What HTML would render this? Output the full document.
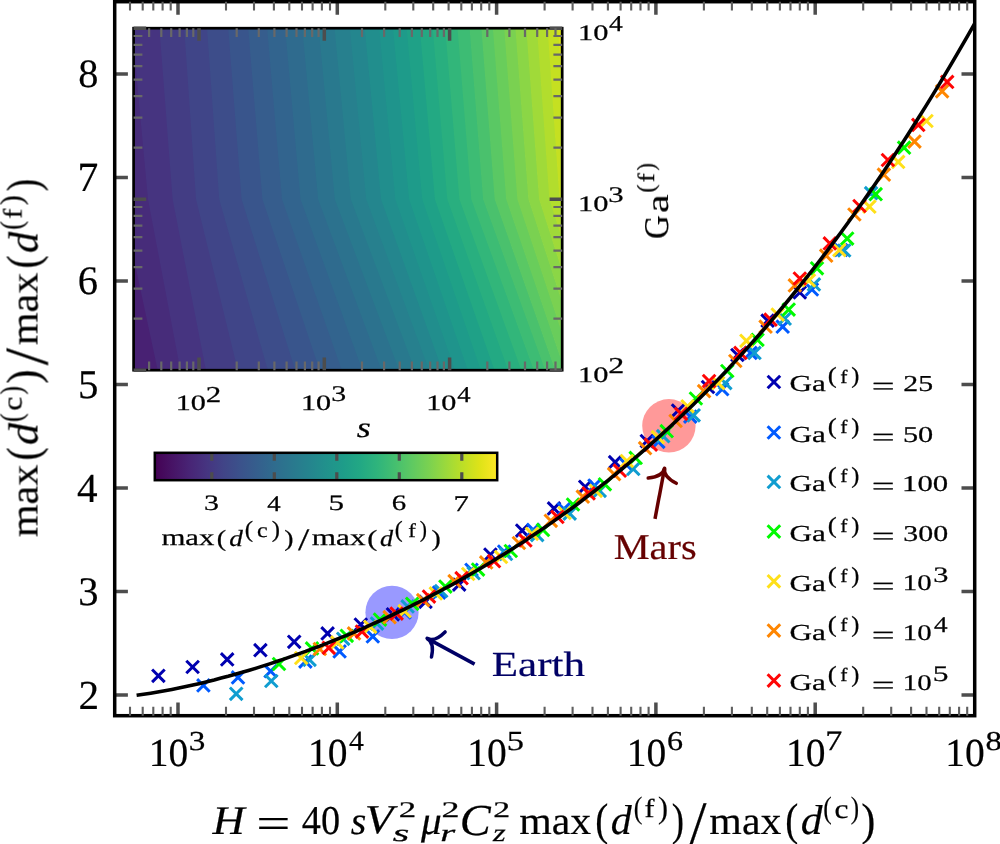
<!DOCTYPE html><html><head><meta charset="utf-8"><title>chart</title><style>html,body{margin:0;padding:0;background:#fff}body{width:1000px;height:844px;overflow:hidden;font-family:"Liberation Serif",serif}svg{display:block}</style></head><body><svg width="1000" height="844" viewBox="0 0 1000 844" font-family="'Liberation Serif', serif">
<rect width="1000" height="844" fill="#fff"/>
<circle cx="392" cy="612.4" r="26.6" fill="#9999ff"/>
<circle cx="668.9" cy="425.8" r="26.7" fill="#ff9999"/>
<path d="M152.1 669.5L164.7 682.1M152.1 682.1L164.7 669.5M186.3 660.7L198.9 673.3M186.3 673.3L198.9 660.7M220.9 653.1L233.5 665.7M220.9 665.7L233.5 653.1M254.1 643.9L266.7 656.5M254.1 656.5L266.7 643.9M287.9 635.5L300.5 648.1M287.9 648.1L300.5 635.5M321.3 627.1L333.9 639.7M321.3 639.7L333.9 627.1M354.5 618.2L367.1 630.8M354.5 630.8L367.1 618.2M386.6 608.0L399.2 620.6M386.6 620.6L399.2 608.0M419.2 595.5L431.8 608.1M419.2 608.1L431.8 595.5M452.9 578.3L465.5 590.9M452.9 590.9L465.5 578.3M484.1 548.3L496.7 560.9M484.1 560.9L496.7 548.3M515.9 524.3L528.5 536.9M515.9 536.9L528.5 524.3M547.7 502.1L560.3 514.7M547.7 514.7L560.3 502.1M578.9 480.5L591.5 493.1M578.9 493.1L591.5 480.5M608.8 455.9L621.4 468.5M608.8 468.5L621.4 455.9M640.5 434.8L653.1 447.4M640.5 447.4L653.1 434.8M671.8 404.3L684.4 416.9M671.8 416.9L684.4 404.3M701.7 380.7L714.3 393.3M701.7 393.3L714.3 380.7M731.1 348.7L743.7 361.3M731.1 361.3L743.7 348.7M761.3 314.4L773.9 327.0M761.3 327.0L773.9 314.4M793.5 286.2L806.1 298.8M793.5 298.8L806.1 286.2M767.6 375.7L780.2 388.3M767.6 388.3L780.2 375.7" stroke="#0000b0" stroke-width="3.0" fill="none"/>
<path d="M197.1 679.1L209.7 691.7M197.1 691.7L209.7 679.1M231.7 671.1L244.3 683.7M231.7 683.7L244.3 671.1M264.3 664.9L276.9 677.5M264.3 677.5L276.9 664.9M299.1 655.3L311.7 667.9M299.1 667.9L311.7 655.3M333.3 645.1L345.9 657.7M333.3 657.7L345.9 645.1M366.5 630.1L379.1 642.7M366.5 642.7L379.1 630.1M398.2 606.1L410.8 618.7M398.2 618.7L410.8 606.1M432.7 586.3L445.3 598.9M432.7 598.9L445.3 586.3M465.2 563.5L477.8 576.1M465.2 576.1L477.8 563.5M497.9 545.3L510.5 557.9M497.9 557.9L510.5 545.3M526.9 523.6L539.5 536.2M526.9 536.2L539.5 523.6M557.6 502.7L570.2 515.3M557.6 515.3L570.2 502.7M588.2 479.3L600.8 491.9M588.2 491.9L600.8 479.3M620.1 458.4L632.7 471.0M620.1 471.0L632.7 458.4M652.1 435.5L664.6 448.1M652.1 448.1L664.6 435.5M684.0 410.3L696.6 422.9M684.0 422.9L696.6 410.3M715.9 382.9L728.5 395.5M715.9 395.5L728.5 382.9M744.2 346.6L756.8 359.2M744.2 359.2L756.8 346.6M776.4 320.4L789.0 333.0M776.4 333.0L789.0 320.4M805.6 283.2L818.2 295.8M805.6 295.8L818.2 283.2M834.8 243.7L847.4 256.3M834.8 256.3L847.4 243.7M767.6 426.2L780.2 438.8M767.6 438.8L780.2 426.2" stroke="#005aff" stroke-width="3.0" fill="none"/>
<path d="M229.9 687.5L242.5 700.1M229.9 700.1L242.5 687.5M265.0 674.7L277.6 687.3M265.0 687.3L277.6 674.7M303.3 653.5L315.9 666.1M303.3 666.1L315.9 653.5M336.9 632.5L349.5 645.1M336.9 645.1L349.5 632.5M370.7 617.3L383.3 629.9M370.7 629.9L383.3 617.3M401.3 600.1L413.9 612.7M401.3 612.7L413.9 600.1M434.9 584.7L447.5 597.3M434.9 597.3L447.5 584.7M467.3 566.9L479.9 579.5M467.3 579.5L479.9 566.9M499.7 547.7L512.3 560.3M499.7 560.3L512.3 547.7M530.9 528.8L543.5 541.4M530.9 541.4L543.5 528.8M563.4 507.3L576.0 519.9M563.4 519.9L576.0 507.3M593.4 484.5L606.0 497.1M593.4 497.1L606.0 484.5M627.0 462.6L639.6 475.2M627.0 475.2L639.6 462.6M656.9 429.9L669.5 442.5M656.9 442.5L669.5 429.9M687.4 409.0L700.0 421.6M687.4 421.6L700.0 409.0M719.0 376.8L731.6 389.4M719.0 389.4L731.6 376.8M748.2 346.6L760.8 359.2M748.2 359.2L760.8 346.6M778.4 312.4L791.0 325.0M778.4 325.0L791.0 312.4M807.6 278.1L820.2 290.7M807.6 290.7L820.2 278.1M837.9 244.2L850.5 256.8M837.9 256.8L850.5 244.2M864.8 186.9L877.4 199.5M864.8 199.5L877.4 186.9M767.6 475.6L780.2 488.2M767.6 488.2L780.2 475.6" stroke="#109dd0" stroke-width="3.0" fill="none"/>
<path d="M272.7 657.7L285.3 670.3M272.7 670.3L285.3 657.7M305.7 642.1L318.3 654.7M305.7 654.7L318.3 642.1M340.5 629.5L353.1 642.1M340.5 642.1L353.1 629.5M373.7 613.3L386.3 625.9M373.7 625.9L386.3 613.3M405.9 597.5L418.5 610.1M405.9 610.1L418.5 597.5M439.1 580.3L451.7 592.9M439.1 592.9L451.7 580.3M471.8 563.3L484.4 575.9M471.8 575.9L484.4 563.3M504.5 544.7L517.1 557.3M504.5 557.3L517.1 544.7M536.7 523.6L549.3 536.2M536.7 536.2L549.3 523.6M566.7 498.2L579.3 510.8M566.7 510.8L579.3 498.2M598.6 478.0L611.2 490.6M598.6 490.6L611.2 478.0M629.4 451.6L642.0 464.2M629.4 464.2L642.0 451.6M660.4 424.9L673.0 437.5M660.4 437.5L673.0 424.9M689.6 392.2L702.2 404.8M689.6 404.8L702.2 392.2M721.0 364.7L733.6 377.3M721.0 377.3L733.6 364.7M751.2 333.5L763.8 346.1M751.2 346.1L763.8 333.5M782.4 303.3L795.0 315.9M782.4 315.9L795.0 303.3M810.7 262.0L823.3 274.6M810.7 274.6L823.3 262.0M840.9 232.3L853.5 244.9M840.9 244.9L853.5 232.3M869.4 187.9L882.0 200.5M869.4 200.5L882.0 187.9M897.8 141.4L910.4 154.0M897.8 154.0L910.4 141.4M767.6 525.3L780.2 537.9M767.6 537.9L780.2 525.3" stroke="#00fa00" stroke-width="3.0" fill="none"/>
<path d="M294.9 651.7L307.5 664.3M294.9 664.3L307.5 651.7M330.9 636.1L343.5 648.7M330.9 648.7L343.5 636.1M363.9 620.5L376.5 633.1M363.9 633.1L376.5 620.5M398.3 604.9L410.9 617.5M398.3 617.5L410.9 604.9M429.5 587.1L442.1 599.7M429.5 599.7L442.1 587.1M461.9 567.7L474.5 580.3M461.9 580.3L474.5 567.7M494.7 550.7L507.3 563.3M494.7 563.3L507.3 550.7M525.6 527.5L538.2 540.1M525.6 540.1L538.2 527.5M558.2 506.7L570.8 519.3M558.2 519.3L570.8 506.7M589.5 484.5L602.1 497.1M589.5 497.1L602.1 484.5M620.6 454.7L633.2 467.3M620.6 467.3L633.2 454.7M651.6 430.9L664.2 443.5M651.6 443.5L664.2 430.9M681.3 400.0L693.9 412.6M681.3 412.6L693.9 400.0M711.9 376.8L724.5 389.4M711.9 389.4L724.5 376.8M740.1 334.5L752.7 347.1M740.1 347.1L752.7 334.5M771.4 308.3L784.0 320.9M771.4 320.9L784.0 308.3M802.6 274.1L815.2 286.7M802.6 286.7L815.2 274.1M833.1 243.8L845.7 256.4M833.1 256.4L845.7 243.8M863.1 200.4L875.7 213.0M863.1 213.0L875.7 200.4M891.9 155.6L904.5 168.2M891.9 168.2L904.5 155.6M920.2 114.7L932.8 127.3M920.2 127.3L932.8 114.7M767.6 575.0L780.2 587.6M767.6 587.6L780.2 575.0" stroke="#ffe019" stroke-width="3.0" fill="none"/>
<path d="M313.5 642.7L326.1 655.3M313.5 655.3L326.1 642.7M347.7 627.1L360.3 639.7M347.7 639.7L360.3 627.1M383.3 610.9L395.9 623.5M383.3 623.5L395.9 610.9M416.9 593.9L429.5 606.5M416.9 606.5L429.5 593.9M448.3 574.9L460.9 587.5M448.3 587.5L460.9 574.9M479.9 556.1L492.5 568.7M479.9 568.7L492.5 556.1M512.6 536.7L525.2 549.3M512.6 549.3L525.2 536.7M544.5 514.5L557.1 527.1M544.5 527.1L557.1 514.5M576.5 490.4L589.1 503.0M576.5 503.0L589.1 490.4M607.8 467.9L620.4 480.5M607.8 480.5L620.4 467.9M638.8 441.9L651.4 454.5M638.8 454.5L651.4 441.9M669.3 414.6L681.9 427.2M669.3 427.2L681.9 414.6M697.8 384.9L710.4 397.5M697.8 397.5L710.4 384.9M729.0 354.7L741.6 367.3M729.0 367.3L741.6 354.7M759.3 320.4L771.9 333.0M759.3 333.0L771.9 320.4M788.5 279.1L801.1 291.7M788.5 291.7L801.1 279.1M819.9 249.4L832.5 262.0M819.9 262.0L832.5 249.4M848.1 208.2L860.7 220.8M848.1 220.8L860.7 208.2M877.6 168.4L890.2 181.0M877.6 181.0L890.2 168.4M908.2 135.3L920.8 147.9M908.2 147.9L920.8 135.3M935.8 85.0L948.4 97.6M935.8 97.6L948.4 85.0M767.6 624.3L780.2 636.9M767.6 636.9L780.2 624.3" stroke="#ff8600" stroke-width="3.0" fill="none"/>
<path d="M322.5 641.5L335.1 654.1M322.5 654.1L335.1 641.5M355.7 625.3L368.3 637.9M355.7 637.9L368.3 625.3M390.3 607.3L402.9 619.9M390.3 619.9L402.9 607.3M422.7 590.3L435.3 602.9M422.7 602.9L435.3 590.3M455.3 571.9L467.9 584.5M455.3 584.5L467.9 571.9M487.7 554.9L500.3 567.5M487.7 567.5L500.3 554.9M519.1 534.1L531.7 546.7M519.1 546.7L531.7 534.1M551.1 510.6L563.7 523.2M551.1 523.2L563.7 510.6M582.3 487.1L594.9 499.7M582.3 499.7L594.9 487.1M613.5 464.4L626.1 477.0M613.5 477.0L626.1 464.4M644.5 438.4L657.1 451.0M644.5 451.0L657.1 438.4M674.7 407.5L687.3 420.1M674.7 420.1L687.3 407.5M702.8 374.8L715.4 387.4M702.8 387.4L715.4 374.8M734.1 346.6L746.7 359.2M734.1 359.2L746.7 346.6M764.3 313.4L776.9 326.0M764.3 326.0L776.9 313.4M793.5 272.2L806.1 284.8M793.5 284.8L806.1 272.2M823.5 237.1L836.1 249.7M823.5 249.7L836.1 237.1M853.2 199.7L865.8 212.3M853.2 212.3L865.8 199.7M881.6 153.7L894.2 166.3M881.6 166.3L894.2 153.7M912.0 118.6L924.6 131.2M912.0 131.2L924.6 118.6M940.9 75.6L953.5 88.2M940.9 88.2L953.5 75.6M767.6 674.3L780.2 686.9M767.6 686.9L780.2 674.3" stroke="#ff0505" stroke-width="3.0" fill="none"/>
<path d="M136.6 695.3L143.6 694.3L150.7 693.2L157.7 692.0L164.8 690.8L171.8 689.5L178.8 688.1L185.9 686.6L192.9 685.0L200.0 683.4L207.0 681.7L214.1 680.0L221.1 678.1L228.1 676.3L235.2 674.3L242.2 672.3L249.3 670.2L256.3 668.1L263.3 665.9L270.4 663.6L277.4 661.3L284.5 658.9L291.5 656.4L298.5 653.9L305.6 651.4L312.6 648.7L319.7 646.1L326.7 643.3L333.8 640.5L340.8 637.7L347.8 634.8L354.9 631.8L361.9 628.8L369.0 625.7L376.0 622.5L383.0 619.3L390.1 616.0L397.1 612.7L404.2 609.3L411.2 605.9L418.2 602.3L425.3 598.8L432.3 595.1L439.4 591.4L446.4 587.6L453.5 583.8L460.5 579.9L467.5 575.9L474.6 571.8L481.6 567.7L488.7 563.5L495.7 559.3L502.7 554.9L509.8 550.5L516.8 546.0L523.9 541.5L530.9 536.8L537.9 532.1L545.0 527.3L552.0 522.4L559.1 517.4L566.1 512.3L573.2 507.2L580.2 502.0L587.2 496.6L594.3 491.2L601.3 485.7L608.4 480.1L615.4 474.4L622.4 468.6L629.5 462.7L636.5 456.7L643.6 450.6L650.6 444.4L657.6 438.1L664.7 431.7L671.7 425.2L678.8 418.5L685.8 411.8L692.9 405.0L699.9 398.0L706.9 390.9L714.0 383.7L721.0 376.4L728.1 369.0L735.1 361.4L742.1 353.7L749.2 345.9L756.2 338.0L763.3 330.0L770.3 321.8L777.3 313.5L784.4 305.0L791.4 296.5L798.5 287.7L805.5 278.9L812.6 269.9L819.6 260.8L826.6 251.6L833.7 242.2L840.7 232.7L847.8 223.0L854.8 213.2L861.8 203.2L868.9 193.1L875.9 182.9L883.0 172.5L890.0 162.0L897.0 151.3L904.1 140.5L911.1 129.5L918.2 118.3L925.2 107.1L932.3 95.6L939.3 84.1L946.3 72.3L953.4 60.4L960.4 48.4L967.5 36.2L974.5 23.9" stroke="#000" stroke-width="3.6" fill="none" stroke-linejoin="round"/>
<path d="M178.0 715.7V702.6M178.0 1.7V14.799999999999999M337.3 715.7V702.6M337.3 1.7V14.799999999999999M496.6 715.7V702.6M496.6 1.7V14.799999999999999M655.9 715.7V702.6M655.9 1.7V14.799999999999999M815.2 715.7V702.6M815.2 1.7V14.799999999999999M114.7 694.9H127.9M974.7 694.9H961.5M114.7 591.4H127.9M974.7 591.4H961.5M114.7 487.9H127.9M974.7 487.9H961.5M114.7 384.4H127.9M974.7 384.4H961.5M114.7 280.9H127.9M974.7 280.9H961.5M114.7 177.4H127.9M974.7 177.4H961.5M114.7 73.9H127.9M974.7 73.9H961.5" stroke="#4d4d4d" stroke-width="3.5" fill="none"/>
<rect x="114.7" y="1.7" width="860.0" height="714.0" fill="none" stroke="#000" stroke-width="3.5"/>
<path d="M130.0 715.7V706.8000000000001M130.0 1.7V10.6M142.7 715.7V706.8000000000001M142.7 1.7V10.6M153.3 715.7V706.8000000000001M153.3 1.7V10.6M162.6 715.7V706.8000000000001M162.6 1.7V10.6M170.7 715.7V706.8000000000001M170.7 1.7V10.6M226.0 715.7V706.8000000000001M226.0 1.7V10.6M254.0 715.7V706.8000000000001M254.0 1.7V10.6M273.9 715.7V706.8000000000001M273.9 1.7V10.6M289.3 715.7V706.8000000000001M289.3 1.7V10.6M302.0 715.7V706.8000000000001M302.0 1.7V10.6M312.6 715.7V706.8000000000001M312.6 1.7V10.6M321.9 715.7V706.8000000000001M321.9 1.7V10.6M330.0 715.7V706.8000000000001M330.0 1.7V10.6M385.3 715.7V706.8000000000001M385.3 1.7V10.6M413.3 715.7V706.8000000000001M413.3 1.7V10.6M433.2 715.7V706.8000000000001M433.2 1.7V10.6M448.6 715.7V706.8000000000001M448.6 1.7V10.6M461.3 715.7V706.8000000000001M461.3 1.7V10.6M471.9 715.7V706.8000000000001M471.9 1.7V10.6M481.2 715.7V706.8000000000001M481.2 1.7V10.6M489.3 715.7V706.8000000000001M489.3 1.7V10.6M544.6 715.7V706.8000000000001M544.6 1.7V10.6M572.6 715.7V706.8000000000001M572.6 1.7V10.6M592.5 715.7V706.8000000000001M592.5 1.7V10.6M607.9 715.7V706.8000000000001M607.9 1.7V10.6M620.6 715.7V706.8000000000001M620.6 1.7V10.6M631.2 715.7V706.8000000000001M631.2 1.7V10.6M640.5 715.7V706.8000000000001M640.5 1.7V10.6M648.6 715.7V706.8000000000001M648.6 1.7V10.6M703.9 715.7V706.8000000000001M703.9 1.7V10.6M731.9 715.7V706.8000000000001M731.9 1.7V10.6M751.8 715.7V706.8000000000001M751.8 1.7V10.6M767.2 715.7V706.8000000000001M767.2 1.7V10.6M779.9 715.7V706.8000000000001M779.9 1.7V10.6M790.5 715.7V706.8000000000001M790.5 1.7V10.6M799.8 715.7V706.8000000000001M799.8 1.7V10.6M807.9 715.7V706.8000000000001M807.9 1.7V10.6M863.2 715.7V706.8000000000001M863.2 1.7V10.6M891.2 715.7V706.8000000000001M891.2 1.7V10.6M911.1 715.7V706.8000000000001M911.1 1.7V10.6M926.5 715.7V706.8000000000001M926.5 1.7V10.6M939.2 715.7V706.8000000000001M939.2 1.7V10.6M949.8 715.7V706.8000000000001M949.8 1.7V10.6M959.1 715.7V706.8000000000001M959.1 1.7V10.6M967.2 715.7V706.8000000000001M967.2 1.7V10.6" stroke="#5f5f5f" stroke-width="2.1" fill="none"/>
<clipPath id="ic"><rect x="133.6" y="28.2" width="428.6" height="342.0"/></clipPath>
<g clip-path="url(#ic)">
<polygon points="-123.6,28.2 -123.6,28.2 -22.8,199.2 61.5,370.2 34.2,370.2 -91.6,199.2" fill="#440154"/>
<polygon points="-123.6,28.2 -59.3,28.2 22.8,199.2 86.6,370.2 59.7,370.2 -26.5,199.2" fill="#450457"/>
<polygon points="-71.9,28.2 21.2,28.2 60.5,199.2 111.5,370.2 84.8,370.2 19.9,199.2" fill="#470e61"/>
<polygon points="17.3,28.2 67.3,28.2 93.5,199.2 136.2,370.2 109.8,370.2 58.0,199.2" fill="#48186a"/>
<polygon points="64.5,28.2 103.4,28.2 123.1,199.2 159.3,370.2 134.5,370.2 91.3,199.2" fill="#482173"/>
<polygon points="101.1,28.2 134.1,28.2 149.8,199.2 182.0,370.2 157.7,370.2 121.1,199.2" fill="#472c7a"/>
<polygon points="132.1,28.2 161.3,28.2 174.2,199.2 208.0,370.2 180.4,370.2 148.0,199.2" fill="#463480"/>
<polygon points="159.4,28.2 185.9,28.2 197.7,199.2 240.1,370.2 205.9,370.2 172.6,199.2" fill="#433d84"/>
<polygon points="184.2,28.2 208.6,28.2 220.9,199.2 269.8,370.2 237.8,370.2 196.0,199.2" fill="#404588"/>
<polygon points="207.0,28.2 229.7,28.2 243.1,199.2 297.0,370.2 267.8,370.2 219.2,199.2" fill="#3d4d8a"/>
<polygon points="228.2,28.2 249.6,28.2 263.8,199.2 321.3,370.2 295.2,370.2 241.6,199.2" fill="#39558c"/>
<polygon points="248.2,28.2 268.4,28.2 283.3,199.2 343.3,370.2 319.7,370.2 262.4,199.2" fill="#365d8d"/>
<polygon points="267.1,28.2 286.3,28.2 301.8,199.2 363.7,370.2 341.8,370.2 282.0,199.2" fill="#32648e"/>
<polygon points="285.1,28.2 303.4,28.2 319.3,199.2 382.8,370.2 362.3,370.2 300.5,199.2" fill="#2f6b8e"/>
<polygon points="302.3,28.2 319.9,28.2 336.0,199.2 400.3,370.2 381.5,370.2 318.1,199.2" fill="#2c728e"/>
<polygon points="318.7,28.2 335.7,28.2 351.9,199.2 416.0,370.2 399.1,370.2 334.8,199.2" fill="#29798e"/>
<polygon points="334.6,28.2 351.0,28.2 367.3,199.2 430.0,370.2 415.0,370.2 350.8,199.2" fill="#27808e"/>
<polygon points="349.9,28.2 365.7,28.2 382.1,199.2 443.2,370.2 429.1,370.2 366.2,199.2" fill="#24868e"/>
<polygon points="364.7,28.2 380.1,28.2 396.3,199.2 455.9,370.2 442.3,370.2 381.0,199.2" fill="#218e8d"/>
<polygon points="379.1,28.2 394.0,28.2 410.0,199.2 468.7,370.2 455.0,370.2 395.3,199.2" fill="#1f948c"/>
<polygon points="393.0,28.2 407.5,28.2 423.1,199.2 481.8,370.2 467.8,370.2 409.1,199.2" fill="#1e9b8a"/>
<polygon points="406.6,28.2 420.7,28.2 435.8,199.2 495.4,370.2 480.8,370.2 422.2,199.2" fill="#1fa187"/>
<polygon points="419.8,28.2 433.6,28.2 448.2,199.2 509.0,370.2 494.4,370.2 434.9,199.2" fill="#23a983"/>
<polygon points="432.7,28.2 446.1,28.2 460.3,199.2 522.2,370.2 508.1,370.2 447.3,199.2" fill="#29af7f"/>
<polygon points="445.2,28.2 458.4,28.2 472.2,199.2 534.6,370.2 521.3,370.2 459.4,199.2" fill="#32b67a"/>
<polygon points="457.5,28.2 470.4,28.2 483.9,199.2 546.0,370.2 533.8,370.2 471.3,199.2" fill="#3dbc74"/>
<polygon points="469.6,28.2 482.2,28.2 495.5,199.2 555.8,370.2 545.2,370.2 483.1,199.2" fill="#4ac16d"/>
<polygon points="481.4,28.2 493.7,28.2 507.0,199.2 565.3,370.2 555.1,370.2 494.7,199.2" fill="#5ac864"/>
<polygon points="492.9,28.2 505.0,28.2 518.2,199.2 575.0,370.2 564.6,370.2 506.2,199.2" fill="#69cd5b"/>
<polygon points="504.2,28.2 516.2,28.2 529.1,199.2 584.7,370.2 574.3,370.2 517.4,199.2" fill="#7ad151"/>
<polygon points="515.4,28.2 527.1,28.2 539.8,199.2 594.3,370.2 584.0,370.2 528.4,199.2" fill="#8bd646"/>
<polygon points="526.3,28.2 537.8,28.2 550.2,199.2 604.0,370.2 593.7,370.2 539.1,199.2" fill="#a0da39"/>
<polygon points="537.0,28.2 548.4,28.2 560.2,199.2 613.7,370.2 603.3,370.2 549.4,199.2" fill="#b2dd2d"/>
<polygon points="547.6,28.2 558.7,28.2 570.2,199.2 623.4,370.2 613.0,370.2 559.5,199.2" fill="#c5e021"/>
<polygon points="558.0,28.2 569.0,28.2 580.2,199.2 633.1,370.2 622.7,370.2 569.5,199.2" fill="#d8e219"/>
<polygon points="568.3,28.2 579.0,28.2 590.1,199.2 642.8,370.2 632.4,370.2 579.5,199.2" fill="#ece51b"/>
<polygon points="578.3,28.2 589.0,28.2 599.9,199.2 652.5,370.2 642.1,370.2 589.4,199.2" fill="#fde725"/>
</g>
<rect x="133.6" y="28.2" width="428.6" height="342.0" fill="none" stroke="#000" stroke-width="2.7"/>
<path d="M199.0 370.2V357.59999999999997M199.0 28.2V40.8M133.6 370.2H146.2M562.2 370.2H549.6M324.3 370.2V357.59999999999997M324.3 28.2V40.8M133.6 199.2H146.2M562.2 199.2H549.6M449.6 370.2V357.59999999999997M449.6 28.2V40.8M133.6 28.2H146.2M562.2 28.2H549.6" stroke="#4d4d4d" stroke-width="3.5" fill="none"/>
<path d="M149.1 370.2V361.4M149.1 28.2V37.0M161.3 370.2V361.4M161.3 28.2V37.0M171.2 370.2V361.4M171.2 28.2V37.0M179.6 370.2V361.4M179.6 28.2V37.0M186.9 370.2V361.4M186.9 28.2V37.0M193.3 370.2V361.4M193.3 28.2V37.0M236.7 370.2V361.4M236.7 28.2V37.0M133.6 318.7H142.4M562.2 318.7H553.4000000000001M258.8 370.2V361.4M258.8 28.2V37.0M133.6 288.6H142.4M562.2 288.6H553.4000000000001M274.4 370.2V361.4M274.4 28.2V37.0M133.6 267.2H142.4M562.2 267.2H553.4000000000001M286.6 370.2V361.4M286.6 28.2V37.0M133.6 250.7H142.4M562.2 250.7H553.4000000000001M296.5 370.2V361.4M296.5 28.2V37.0M133.6 237.1H142.4M562.2 237.1H553.4000000000001M304.9 370.2V361.4M304.9 28.2V37.0M133.6 225.7H142.4M562.2 225.7H553.4000000000001M312.2 370.2V361.4M312.2 28.2V37.0M133.6 215.8H142.4M562.2 215.8H553.4000000000001M318.6 370.2V361.4M318.6 28.2V37.0M133.6 207.0H142.4M562.2 207.0H553.4000000000001M362.0 370.2V361.4M362.0 28.2V37.0M133.6 147.7H142.4M562.2 147.7H553.4000000000001M384.1 370.2V361.4M384.1 28.2V37.0M133.6 117.6H142.4M562.2 117.6H553.4000000000001M399.7 370.2V361.4M399.7 28.2V37.0M133.6 96.2H142.4M562.2 96.2H553.4000000000001M411.9 370.2V361.4M411.9 28.2V37.0M133.6 79.7H142.4M562.2 79.7H553.4000000000001M421.8 370.2V361.4M421.8 28.2V37.0M133.6 66.1H142.4M562.2 66.1H553.4000000000001M430.2 370.2V361.4M430.2 28.2V37.0M133.6 54.7H142.4M562.2 54.7H553.4000000000001M437.5 370.2V361.4M437.5 28.2V37.0M133.6 44.8H142.4M562.2 44.8H553.4000000000001M443.9 370.2V361.4M443.9 28.2V37.0M133.6 36.0H142.4M562.2 36.0H553.4000000000001M487.3 370.2V361.4M487.3 28.2V37.0M509.4 370.2V361.4M509.4 28.2V37.0M525.0 370.2V361.4M525.0 28.2V37.0M537.2 370.2V361.4M537.2 28.2V37.0M547.1 370.2V361.4M547.1 28.2V37.0M555.5 370.2V361.4M555.5 28.2V37.0" stroke="#686868" stroke-width="2.2" fill="none"/>
<linearGradient id="cb" x1="0" x2="1" y1="0" y2="0"><stop offset="0.00" stop-color="#440154"/><stop offset="0.05" stop-color="#471365"/><stop offset="0.10" stop-color="#482475"/><stop offset="0.15" stop-color="#463480"/><stop offset="0.20" stop-color="#414487"/><stop offset="0.25" stop-color="#3b528b"/><stop offset="0.30" stop-color="#355f8d"/><stop offset="0.35" stop-color="#2f6c8e"/><stop offset="0.40" stop-color="#2a788e"/><stop offset="0.45" stop-color="#25848e"/><stop offset="0.50" stop-color="#21918c"/><stop offset="0.55" stop-color="#1e9c89"/><stop offset="0.60" stop-color="#22a884"/><stop offset="0.65" stop-color="#2fb47c"/><stop offset="0.70" stop-color="#44bf70"/><stop offset="0.75" stop-color="#5ec962"/><stop offset="0.80" stop-color="#7ad151"/><stop offset="0.85" stop-color="#9bd93c"/><stop offset="0.90" stop-color="#bddf26"/><stop offset="0.95" stop-color="#dfe318"/><stop offset="1.00" stop-color="#fde725"/></linearGradient>
<rect x="154.8" y="452.8" width="342.4" height="27.399999999999977" fill="url(#cb)"/>
<path d="M211.8 452.8V460.8M211.8 480.2V472.2M274.3 452.8V460.8M274.3 480.2V472.2M336.8 452.8V460.8M336.8 480.2V472.2M399.3 452.8V460.8M399.3 480.2V472.2M461.8 452.8V460.8M461.8 480.2V472.2" stroke="#4d4d4d" stroke-width="3.2" fill="none"/>
<rect x="154.8" y="452.8" width="342.4" height="27.399999999999977" fill="none" stroke="#000" stroke-width="2.5"/>
<path d="M474.6 664.1L427.1 638.4" stroke="#000066" stroke-width="3.5" fill="none" stroke-linecap="butt"/><path d="M445.1 631.9Q434.6 642.4 427.1 638.4Q434.6 642.4 431.5 657.0" stroke="#000066" stroke-width="3.5" fill="none" stroke-linecap="round" stroke-linejoin="round"/>
<path d="M655.0 518.8L664.6 468.2" stroke="#660000" stroke-width="3.5" fill="none" stroke-linecap="butt"/><path d="M676.3 483.3Q663.0 476.6 664.6 468.2Q663.0 476.6 648.2 478.0" stroke="#660000" stroke-width="3.5" fill="none" stroke-linecap="round" stroke-linejoin="round"/>
<g style="opacity:0.999" text-rendering="geometricPrecision">
<text transform="translate(78.56 708.50) scale(1.0000 1)" font-size="41.21px" fill="#000" stroke="#000" stroke-width="0.2">2</text>
<text transform="translate(78.23 604.59) scale(1.0000 1)" font-size="40.60px" fill="#000" stroke="#000" stroke-width="0.2">3</text>
<text transform="translate(76.91 501.50) scale(1.0000 1)" font-size="41.21px" fill="#000" stroke="#000" stroke-width="0.2">4</text>
<text transform="translate(78.08 397.59) scale(1.0000 1)" font-size="40.90px" fill="#000" stroke="#000" stroke-width="0.2">5</text>
<text transform="translate(77.82 294.09) scale(1.0000 1)" font-size="40.60px" fill="#000" stroke="#000" stroke-width="0.2">6</text>
<text transform="translate(77.38 191.00) scale(1.0000 1)" font-size="41.53px" fill="#000" stroke="#000" stroke-width="0.2">7</text>
<text transform="translate(78.36 87.10) scale(1.0000 1)" font-size="40.30px" fill="#000" stroke="#000" stroke-width="0.2">8</text>
<text transform="translate(148.74 766.10) scale(0.9959 1)" font-size="39.70px" fill="#000" stroke="#000" stroke-width="0.2">10</text>
<text transform="translate(188.80 750.03) scale(1.2108 1)" font-size="27.46px" fill="#000" stroke="#000" stroke-width="0.25">3</text>
<text transform="translate(308.04 766.10) scale(0.9959 1)" font-size="39.70px" fill="#000" stroke="#000" stroke-width="0.2">10</text>
<text transform="translate(349.01 750.30) scale(1.0645 1)" font-size="27.88px" fill="#000" stroke="#000" stroke-width="0.25">4</text>
<text transform="translate(467.34 766.10) scale(0.9959 1)" font-size="39.70px" fill="#000" stroke="#000" stroke-width="0.2">10</text>
<text transform="translate(506.83 750.02) scale(1.2469 1)" font-size="27.67px" fill="#000" stroke="#000" stroke-width="0.25">5</text>
<text transform="translate(626.64 766.10) scale(0.9959 1)" font-size="39.70px" fill="#000" stroke="#000" stroke-width="0.2">10</text>
<text transform="translate(666.92 750.03) scale(1.1686 1)" font-size="27.46px" fill="#000" stroke="#000" stroke-width="0.25">6</text>
<text transform="translate(785.94 766.10) scale(0.9959 1)" font-size="39.70px" fill="#000" stroke="#000" stroke-width="0.2">10</text>
<text transform="translate(825.29 750.30) scale(1.2130 1)" font-size="28.09px" fill="#000" stroke="#000" stroke-width="0.25">7</text>
<text transform="translate(945.24 766.10) scale(0.9959 1)" font-size="39.70px" fill="#000" stroke="#000" stroke-width="0.2">10</text>
<text transform="translate(985.49 750.03) scale(1.2054 1)" font-size="27.26px" fill="#000" stroke="#000" stroke-width="0.25">8</text>
<text transform="translate(212.45 833.60) scale(1.0962 1)" font-size="40.61px" font-style="italic" fill="#000" stroke="#000" stroke-width="0.2">H</text>
<text transform="translate(256.37 838.34) scale(1.3909 1)" font-size="43.60px" fill="#000" stroke="#000" stroke-width="0.2">=</text>
<text transform="translate(301.83 833.59) scale(0.9366 1)" font-size="40.89px" fill="#000" stroke="#000" stroke-width="0.2">40</text>
<text transform="translate(350.80 833.71) scale(1.0159 1)" font-size="39.37px" font-style="italic" fill="#000" stroke="#000" stroke-width="0.2">s</text>
<text transform="translate(364.66 833.48) scale(1.1382 1)" font-size="41.04px" font-style="italic" fill="#000" stroke="#000" stroke-width="0.2">V</text>
<text transform="translate(398.74 817.00) scale(1.5497 1)" font-size="22.42px" fill="#000" stroke="#000" stroke-width="0.25">2</text>
<text transform="translate(392.67 840.76) scale(1.7769 1)" font-size="23.96px" font-style="italic" fill="#000" stroke="#000" stroke-width="0.25">s</text>
<text transform="translate(421.00 833.60) scale(1.0319 1)" font-size="40.00px" font-style="italic" fill="#000" stroke="#000" stroke-width="0.2">μ</text>
<text transform="translate(441.38 817.00) scale(1.6054 1)" font-size="22.42px" fill="#000" stroke="#000" stroke-width="0.25">2</text>
<text transform="translate(440.16 840.80) scale(1.6043 1)" font-size="24.04px" font-style="italic" fill="#000" stroke="#000" stroke-width="0.25">r</text>
<text transform="translate(459.85 834.56) scale(1.0479 1)" font-size="44.33px" font-style="italic" fill="#000" stroke="#000" stroke-width="0.2">C</text>
<text transform="translate(493.28 817.00) scale(1.5051 1)" font-size="22.42px" fill="#000" stroke="#000" stroke-width="0.25">2</text>
<text transform="translate(492.93 840.80) scale(1.3323 1)" font-size="24.57px" font-style="italic" fill="#000" stroke="#000" stroke-width="0.25">z</text>
<text transform="translate(519.26 833.71) scale(1.0625 1)" font-size="39.37px" fill="#000" stroke="#000" stroke-width="0.2">max</text>
<text transform="translate(595.24 834.77) scale(0.8578 1)" font-size="45.71px" fill="#000" stroke="#000" stroke-width="0.2">(</text>
<text transform="translate(610.64 833.68) scale(1.0051 1)" font-size="41.70px" font-style="italic" fill="#000" stroke="#000" stroke-width="0.2">d</text>
<text transform="translate(633.64 818.14) scale(0.8352 1)" font-size="30.99px" fill="#000" stroke="#000" stroke-width="0.2">(</text>
<text transform="translate(644.52 817.40) scale(1.1500 1)" font-size="26.10px" fill="#000" stroke="#000" stroke-width="0.25">f</text>
<text transform="translate(657.90 818.14) scale(0.9681 1)" font-size="30.99px" fill="#000" stroke="#000" stroke-width="0.2">)</text>
<text transform="translate(671.69 834.77) scale(0.8077 1)" font-size="45.71px" fill="#000" stroke="#000" stroke-width="0.2">)</text>
<text transform="translate(689.40 843.98) scale(0.9887 1)" font-size="61.79px" fill="#000" stroke="#000" stroke-width="0.2">/</text>
<text transform="translate(709.36 833.71) scale(1.0625 1)" font-size="39.37px" fill="#000" stroke="#000" stroke-width="0.2">max</text>
<text transform="translate(785.34 834.77) scale(0.8578 1)" font-size="45.71px" fill="#000" stroke="#000" stroke-width="0.2">(</text>
<text transform="translate(800.70 833.68) scale(1.0408 1)" font-size="41.70px" font-style="italic" fill="#000" stroke="#000" stroke-width="0.2">d</text>
<text transform="translate(823.35 818.14) scale(0.8226 1)" font-size="30.99px" fill="#000" stroke="#000" stroke-width="0.2">(</text>
<text transform="translate(834.61 817.53) scale(1.1500 1)" font-size="27.29px" fill="#000" stroke="#000" stroke-width="0.25">c</text>
<text transform="translate(850.75 818.14) scale(0.8067 1)" font-size="30.99px" fill="#000" stroke="#000" stroke-width="0.2">)</text>
<text transform="translate(861.23 834.77) scale(0.9255 1)" font-size="45.71px" fill="#000" stroke="#000" stroke-width="0.2">)</text>
<g transform="translate(37.5 536.5) rotate(-90)">
<text transform="translate(-0.85 0.11) scale(1.0625 1)" font-size="39.81px" fill="#000" stroke="#000" stroke-width="0.2">max</text>
<text transform="translate(75.96 1.18) scale(0.8578 1)" font-size="46.22px" fill="#000" stroke="#000" stroke-width="0.2">(</text>
<text transform="translate(91.49 0.08) scale(1.0408 1)" font-size="42.16px" font-style="italic" fill="#000" stroke="#000" stroke-width="0.2">d</text>
<text transform="translate(114.40 -15.63) scale(0.8226 1)" font-size="31.33px" fill="#000" stroke="#000" stroke-width="0.2">(</text>
<text transform="translate(125.78 -16.25) scale(1.1500 1)" font-size="27.59px" fill="#000" stroke="#000" stroke-width="0.25">c</text>
<text transform="translate(142.10 -15.63) scale(0.8067 1)" font-size="31.33px" fill="#000" stroke="#000" stroke-width="0.2">)</text>
<text transform="translate(152.69 1.18) scale(0.9255 1)" font-size="46.22px" fill="#000" stroke="#000" stroke-width="0.2">)</text>
<text transform="translate(171.20 10.38) scale(0.9956 1)" font-size="62.09px" fill="#000" stroke="#000" stroke-width="0.2">/</text>
<text transform="translate(191.15 0.11) scale(1.0625 1)" font-size="39.81px" fill="#000" stroke="#000" stroke-width="0.2">max</text>
<text transform="translate(267.96 1.18) scale(0.8578 1)" font-size="46.22px" fill="#000" stroke="#000" stroke-width="0.2">(</text>
<text transform="translate(283.54 0.08) scale(1.0051 1)" font-size="42.16px" font-style="italic" fill="#000" stroke="#000" stroke-width="0.2">d</text>
<text transform="translate(306.78 -15.63) scale(0.8352 1)" font-size="31.33px" fill="#000" stroke="#000" stroke-width="0.2">(</text>
<text transform="translate(317.79 -16.38) scale(1.1500 1)" font-size="26.39px" fill="#000" stroke="#000" stroke-width="0.25">f</text>
<text transform="translate(331.32 -15.63) scale(0.9681 1)" font-size="31.33px" fill="#000" stroke="#000" stroke-width="0.2">)</text>
<text transform="translate(345.26 1.18) scale(0.8077 1)" font-size="46.22px" fill="#000" stroke="#000" stroke-width="0.2">)</text>
</g>
<text transform="translate(491.71 676.05) scale(1.2256 1)" font-size="35.18px" fill="#000066" stroke="#000066" stroke-width="0.2">Earth</text>
<text transform="translate(613.69 559.44) scale(1.1102 1)" font-size="36.39px" fill="#660000" stroke="#660000" stroke-width="0.2">Mars</text>
<text transform="translate(175.64 409.98) scale(1.3761 1)" font-size="21.93px" fill="#000" stroke="#000" stroke-width="0.25">10</text>
<text transform="translate(205.80 401.60) scale(1.3640 1)" font-size="22.73px" fill="#000" stroke="#000" stroke-width="0.25">2</text>
<text transform="translate(578.02 381.78) scale(1.3772 1)" font-size="22.07px" fill="#000" stroke="#000" stroke-width="0.25">10</text>
<text transform="translate(608.16 373.00) scale(1.4080 1)" font-size="22.73px" fill="#000" stroke="#000" stroke-width="0.25">2</text>
<text transform="translate(300.94 409.98) scale(1.3761 1)" font-size="21.93px" fill="#000" stroke="#000" stroke-width="0.25">10</text>
<text transform="translate(331.16 401.38) scale(1.3346 1)" font-size="22.39px" fill="#000" stroke="#000" stroke-width="0.25">3</text>
<text transform="translate(578.02 210.78) scale(1.3772 1)" font-size="22.07px" fill="#000" stroke="#000" stroke-width="0.25">10</text>
<text transform="translate(608.21 201.78) scale(1.3777 1)" font-size="22.39px" fill="#000" stroke="#000" stroke-width="0.25">3</text>
<text transform="translate(426.24 409.98) scale(1.3761 1)" font-size="21.93px" fill="#000" stroke="#000" stroke-width="0.25">10</text>
<text transform="translate(457.27 401.60) scale(1.1733 1)" font-size="22.73px" fill="#000" stroke="#000" stroke-width="0.25">4</text>
<text transform="translate(578.02 39.78) scale(1.3772 1)" font-size="22.07px" fill="#000" stroke="#000" stroke-width="0.25">10</text>
<text transform="translate(609.05 31.00) scale(1.2112 1)" font-size="22.73px" fill="#000" stroke="#000" stroke-width="0.25">4</text>
<text transform="translate(356.84 436.71) scale(1.2522 1)" font-size="28.75px" font-style="italic" fill="#000" stroke="#000" stroke-width="0.25">s</text>
<g transform="translate(668 237.7) rotate(-90)">
<text transform="translate(-1.31 0.05) scale(0.9423 1)" font-size="34.78px" fill="#000" stroke="#000" stroke-width="0.2">G</text>
<text transform="translate(24.63 -0.01) scale(1.3448 1)" font-size="31.25px" fill="#000" stroke="#000" stroke-width="0.2">a</text>
<text transform="translate(45.11 -13.62) scale(0.9834 1)" font-size="24.73px" fill="#000" stroke="#000" stroke-width="0.25">(</text>
<text transform="translate(55.51 -13.60) scale(1.1500 1)" font-size="23.55px" fill="#000" stroke="#000" stroke-width="0.25">f</text>
<text transform="translate(67.14 -13.62) scale(0.8867 1)" font-size="24.73px" fill="#000" stroke="#000" stroke-width="0.25">)</text>
</g>
<text transform="translate(204.06 510.38) scale(1.3619 1)" font-size="21.94px" fill="#000" stroke="#000" stroke-width="0.25">3</text>
<text transform="translate(267.37 510.60) scale(1.1973 1)" font-size="22.27px" fill="#000" stroke="#000" stroke-width="0.25">4</text>
<text transform="translate(328.54 510.38) scale(1.4024 1)" font-size="22.11px" fill="#000" stroke="#000" stroke-width="0.25">5</text>
<text transform="translate(391.75 510.38) scale(1.3143 1)" font-size="21.94px" fill="#000" stroke="#000" stroke-width="0.25">6</text>
<text transform="translate(453.41 510.60) scale(1.3642 1)" font-size="22.44px" fill="#000" stroke="#000" stroke-width="0.25">7</text>
<text transform="translate(161.38 545.47) scale(1.3306 1)" font-size="23.13px" fill="#000" stroke="#000" stroke-width="0.25">max</text>
<text transform="translate(216.73 545.61) scale(1.2177 1)" font-size="23.19px" fill="#000" stroke="#000" stroke-width="0.25">(</text>
<text transform="translate(229.18 545.57) scale(1.1779 1)" font-size="23.12px" font-style="italic" fill="#000" stroke="#000" stroke-width="0.25">d</text>
<text transform="translate(244.87 536.77) scale(1.0723 1)" font-size="23.41px" fill="#000" stroke="#000" stroke-width="0.25">(</text>
<text transform="translate(256.95 536.69) scale(1.1500 1)" font-size="20.83px" fill="#000" stroke="#000" stroke-width="0.25">c</text>
<text transform="translate(271.66 536.77) scale(1.0516 1)" font-size="23.41px" fill="#000" stroke="#000" stroke-width="0.25">)</text>
<text transform="translate(284.37 545.61) scale(1.1943 1)" font-size="23.19px" fill="#000" stroke="#000" stroke-width="0.25">)</text>
<text transform="translate(298.00 550.29) scale(1.2932 1)" font-size="31.49px" fill="#000" stroke="#000" stroke-width="0.2">/</text>
<text transform="translate(311.78 545.47) scale(1.3510 1)" font-size="23.13px" fill="#000" stroke="#000" stroke-width="0.25">max</text>
<text transform="translate(367.34 545.61) scale(1.3023 1)" font-size="23.19px" fill="#000" stroke="#000" stroke-width="0.25">(</text>
<text transform="translate(380.11 545.57) scale(1.1319 1)" font-size="23.12px" font-style="italic" fill="#000" stroke="#000" stroke-width="0.25">d</text>
<text transform="translate(394.82 536.77) scale(1.0220 1)" font-size="23.41px" fill="#000" stroke="#000" stroke-width="0.25">(</text>
<text transform="translate(408.26 536.50) scale(1.1500 1)" font-size="19.72px" fill="#000" stroke="#000" stroke-width="0.25">f</text>
<text transform="translate(419.75 536.77) scale(0.9202 1)" font-size="23.41px" fill="#000" stroke="#000" stroke-width="0.25">)</text>
<text transform="translate(431.57 545.61) scale(1.1943 1)" font-size="23.19px" fill="#000" stroke="#000" stroke-width="0.25">)</text>
<text transform="translate(789.45 391.37) scale(1.3561 1)" font-size="22.99px" fill="#000" stroke="#000" stroke-width="0.25">Ga</text>
<text transform="translate(827.68 383.24) scale(1.1725 1)" font-size="23.08px" fill="#000" stroke="#000" stroke-width="0.25">(</text>
<text transform="translate(840.29 382.50) scale(1.1500 1)" font-size="18.87px" fill="#000" stroke="#000" stroke-width="0.25">f</text>
<text transform="translate(851.27 383.24) scale(1.0500 1)" font-size="23.08px" fill="#000" stroke="#000" stroke-width="0.25">)</text>
<text transform="translate(871.67 395.29) scale(1.5166 1)" font-size="26.80px" fill="#000" stroke="#000" stroke-width="0.25">=</text>
<text transform="translate(903.36 391.27) scale(1.3065 1)" font-size="22.84px" fill="#000" stroke="#000" stroke-width="0.25">25</text>
<text transform="translate(789.45 441.87) scale(1.3561 1)" font-size="22.99px" fill="#000" stroke="#000" stroke-width="0.25">Ga</text>
<text transform="translate(827.68 433.74) scale(1.1725 1)" font-size="23.08px" fill="#000" stroke="#000" stroke-width="0.25">(</text>
<text transform="translate(840.29 433.00) scale(1.1500 1)" font-size="18.87px" fill="#000" stroke="#000" stroke-width="0.25">f</text>
<text transform="translate(851.27 433.74) scale(1.0500 1)" font-size="23.08px" fill="#000" stroke="#000" stroke-width="0.25">)</text>
<text transform="translate(871.67 445.79) scale(1.5166 1)" font-size="26.80px" fill="#000" stroke="#000" stroke-width="0.25">=</text>
<text transform="translate(902.88 441.77) scale(1.3382 1)" font-size="22.67px" fill="#000" stroke="#000" stroke-width="0.25">50</text>
<text transform="translate(789.45 491.27) scale(1.3561 1)" font-size="22.99px" fill="#000" stroke="#000" stroke-width="0.25">Ga</text>
<text transform="translate(827.68 483.14) scale(1.1725 1)" font-size="23.08px" fill="#000" stroke="#000" stroke-width="0.25">(</text>
<text transform="translate(840.29 482.40) scale(1.1500 1)" font-size="18.87px" fill="#000" stroke="#000" stroke-width="0.25">f</text>
<text transform="translate(851.27 483.14) scale(1.0500 1)" font-size="23.08px" fill="#000" stroke="#000" stroke-width="0.25">)</text>
<text transform="translate(871.67 495.19) scale(1.5166 1)" font-size="26.80px" fill="#000" stroke="#000" stroke-width="0.25">=</text>
<text transform="translate(902.09 491.17) scale(1.3572 1)" font-size="22.67px" fill="#000" stroke="#000" stroke-width="0.25">100</text>
<text transform="translate(789.45 540.97) scale(1.3561 1)" font-size="22.99px" fill="#000" stroke="#000" stroke-width="0.25">Ga</text>
<text transform="translate(827.68 532.84) scale(1.1725 1)" font-size="23.08px" fill="#000" stroke="#000" stroke-width="0.25">(</text>
<text transform="translate(840.29 532.10) scale(1.1500 1)" font-size="18.87px" fill="#000" stroke="#000" stroke-width="0.25">f</text>
<text transform="translate(851.27 532.84) scale(1.0500 1)" font-size="23.08px" fill="#000" stroke="#000" stroke-width="0.25">)</text>
<text transform="translate(871.67 544.89) scale(1.5166 1)" font-size="26.80px" fill="#000" stroke="#000" stroke-width="0.25">=</text>
<text transform="translate(903.35 540.87) scale(1.3189 1)" font-size="22.67px" fill="#000" stroke="#000" stroke-width="0.25">300</text>
<text transform="translate(789.45 590.67) scale(1.3561 1)" font-size="22.99px" fill="#000" stroke="#000" stroke-width="0.25">Ga</text>
<text transform="translate(827.68 582.54) scale(1.1725 1)" font-size="23.08px" fill="#000" stroke="#000" stroke-width="0.25">(</text>
<text transform="translate(840.29 581.80) scale(1.1500 1)" font-size="18.87px" fill="#000" stroke="#000" stroke-width="0.25">f</text>
<text transform="translate(851.27 582.54) scale(1.0500 1)" font-size="23.08px" fill="#000" stroke="#000" stroke-width="0.25">)</text>
<text transform="translate(871.67 594.59) scale(1.5166 1)" font-size="26.80px" fill="#000" stroke="#000" stroke-width="0.25">=</text>
<text transform="translate(902.75 590.38) scale(1.2874 1)" font-size="22.37px" fill="#000" stroke="#000" stroke-width="0.25">10</text>
<text transform="translate(933.23 581.98) scale(1.3745 1)" font-size="22.09px" fill="#000" stroke="#000" stroke-width="0.25">3</text>
<text transform="translate(789.45 639.97) scale(1.3561 1)" font-size="22.99px" fill="#000" stroke="#000" stroke-width="0.25">Ga</text>
<text transform="translate(827.68 631.84) scale(1.1725 1)" font-size="23.08px" fill="#000" stroke="#000" stroke-width="0.25">(</text>
<text transform="translate(840.29 631.10) scale(1.1500 1)" font-size="18.87px" fill="#000" stroke="#000" stroke-width="0.25">f</text>
<text transform="translate(851.27 631.84) scale(1.0500 1)" font-size="23.08px" fill="#000" stroke="#000" stroke-width="0.25">)</text>
<text transform="translate(871.67 643.89) scale(1.5166 1)" font-size="26.80px" fill="#000" stroke="#000" stroke-width="0.25">=</text>
<text transform="translate(902.75 639.68) scale(1.2874 1)" font-size="22.37px" fill="#000" stroke="#000" stroke-width="0.25">10</text>
<text transform="translate(934.06 631.50) scale(1.2084 1)" font-size="22.42px" fill="#000" stroke="#000" stroke-width="0.25">4</text>
<text transform="translate(789.45 689.97) scale(1.3561 1)" font-size="22.99px" fill="#000" stroke="#000" stroke-width="0.25">Ga</text>
<text transform="translate(827.68 681.84) scale(1.1725 1)" font-size="23.08px" fill="#000" stroke="#000" stroke-width="0.25">(</text>
<text transform="translate(840.29 681.10) scale(1.1500 1)" font-size="18.87px" fill="#000" stroke="#000" stroke-width="0.25">f</text>
<text transform="translate(851.27 681.84) scale(1.0500 1)" font-size="23.08px" fill="#000" stroke="#000" stroke-width="0.25">)</text>
<text transform="translate(871.67 693.89) scale(1.5166 1)" font-size="26.80px" fill="#000" stroke="#000" stroke-width="0.25">=</text>
<text transform="translate(902.75 689.68) scale(1.2874 1)" font-size="22.37px" fill="#000" stroke="#000" stroke-width="0.25">10</text>
<text transform="translate(932.71 681.28) scale(1.4154 1)" font-size="22.26px" fill="#000" stroke="#000" stroke-width="0.25">5</text>
</g>
</svg></body></html>
